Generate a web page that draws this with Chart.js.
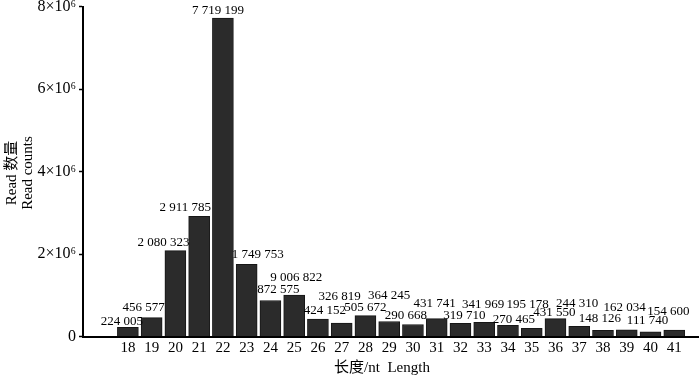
<!DOCTYPE html>
<html>
<head>
<meta charset="utf-8">
<script src="https://cdn.jsdelivr.net/npm/chart.js@4.4.1/dist/chart.umd.min.js"></script>
<style>
  body { margin: 0; background: #fff; }
  canvas { display: block; }
</style>
</head>
<body>
<canvas id="lenChart" width="700" height="380"></canvas>
<script>
// read length distribution
const lengths = [18, 19, 20, 21, 22, 23, 24, 25, 26, 27, 28, 29, 30, 31, 32, 33, 34, 35, 36, 37, 38, 39, 40, 41];
const readCounts = [224005, 456577, 2080323, 2911785, 7719199, 1749753, 872575, 1006822, 424152, 326819, 505672, 364245,
    290668, 431741, 319710, 341969, 270465, 195178, 431550, 244310, 148126, 162034, 111740, 154600];
const countLabels = ['224 005', '456 577', '2 080 323', '2 911 785', '7 719 199', '1 749 753', '872 575', '9 006 822',
    '424 152', '326 819', '505 672', '364 245', '290 668', '431 741', '319 710', '341 969', '270 465', '195 178',
    '431 550', '244 310', '148 126', '162 034', '111 740', '154 600'];
const yTickValues = [0, 2000000, 4000000, 6000000, 8000000];
const yTickLabels = ['0', '2×10⁶', '4×10⁶', '6×10⁶', '8×10⁶'];

const serif = "'Liberation Serif', 'Times New Roman', 'Noto Sans CJK SC', serif";

// label nudges (px) so the numbers don't collide
const labelDx = [-6, -8, -12, -14, -5, 11, 8, 2, 7, -2, 0, 0, -7, -2, 4, -1, 6, -4, -1, -2, -3, -2, -3, -6];
const labelGap = [6, 10, 8, 9, 8, 10, 11, 17, 8, 26, 8, 26, 9, 15, 8, 18, 6, 24, 6, 23, 12, 22, 11, 19];

const barLabels = {
    id: 'barLabels',
    afterDatasetsDraw(chart) {
        const ctx = chart.ctx;
        const meta = chart.getDatasetMeta(0);
        ctx.save();
        ctx.font = '13px ' + serif;
        ctx.fillStyle = '#000';
        ctx.textAlign = 'center';
        ctx.textBaseline = 'middle';
        meta.data.forEach((bar, i) => {
            ctx.fillText(countLabels[i], bar.x + labelDx[i], bar.y - labelGap[i]);
        });
        ctx.restore();
    }
};

const axisTitles = {
    id: 'axisTitles',
    afterDraw(chart) {
        const ctx = chart.ctx;
        ctx.save();
        ctx.font = '15px ' + serif;
        ctx.fillStyle = '#000';
        ctx.textAlign = 'center';
        ctx.textBaseline = 'middle';
        ctx.fillText('长度/nt  Length', 382, 368);
        ctx.translate(0, 173);
        ctx.rotate(-Math.PI / 2);
        ctx.fillText('Read 数量', 0, 12);
        ctx.fillText('Read counts', 0, 28);
        ctx.restore();
    }
};

const ctx = document.getElementById('lenChart').getContext('2d');
const lenChart = new Chart(ctx, {
    type: 'bar',
    data: {
        datasets: [{
            data: lengths.map((l, i) => ({ x: l, y: readCounts[i] })),
            backgroundColor: '#2b2b2b',
            borderColor: '#161616',
            borderWidth: 1,
            barThickness: 21
        }]
    },
    options: {
        responsive: false,
        animation: false,
        layout: { padding: { top: 6.5, right: 2, left: 0, bottom: 0 } },
        scales: {
            x: {
                type: 'linear',
                min: 16.65,
                max: 41.46,
                afterBuildTicks: scale => { scale.ticks = lengths.map(v => ({ value: v })); },
                afterFit: scale => { scale.height = 43.5; scale.paddingLeft = 0; scale.paddingRight = 0; },
                grid: { display: false, drawTicks: false },
                border: { display: true, color: '#000', width: 2 },
                ticks: {
                    color: '#000',
                    font: { family: serif, size: 15 },
                    padding: 3,
                    maxRotation: 0,
                    autoSkip: false
                }
            },
            y: {
                min: 0,
                max: 8000000,
                afterBuildTicks: scale => { scale.ticks = yTickValues.map(v => ({ value: v })); },
                afterFit: scale => { scale.width = 83; scale.paddingTop = 0; scale.paddingBottom = 0; },
                grid: { drawOnChartArea: false, drawTicks: true, tickLength: 4, tickColor: '#000', tickWidth: 1.5 },
                border: { display: true, color: '#000', width: 2 },
                ticks: {
                    color: '#000',
                    font: { family: serif, size: 16 },
                    padding: 3,
                    callback: (value) => {
                        const i = yTickValues.indexOf(value);
                        return i >= 0 ? yTickLabels[i] : '';
                    }
                }
            }
        },
        plugins: {
            legend: { display: false },
            tooltip: { enabled: false }
        }
    },
    plugins: [barLabels, axisTitles]
});
</script>
</body>
</html>
